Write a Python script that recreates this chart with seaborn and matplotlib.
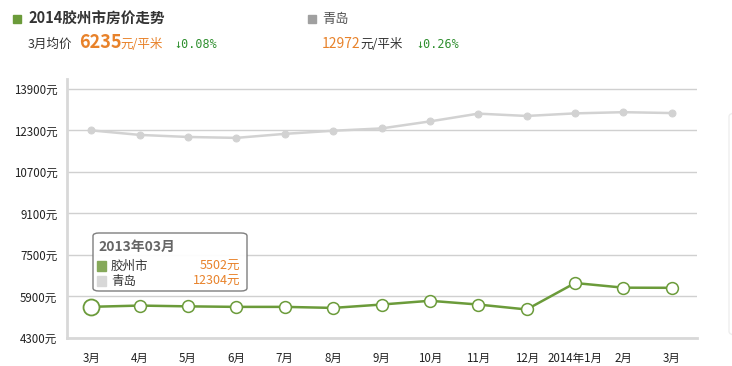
import numpy as np
import pandas as pd
import matplotlib.pyplot as plt
import seaborn as sns
from matplotlib.patches import FancyBboxPatch, Rectangle

# 数据
months = ["3月", "4月", "5月", "6月", "7月", "8月", "9月", "10月", "11月", "12月", "2014年1月", "2月", "3月"]
jiaozhou = [5502, 5550, 5520, 5500, 5500, 5460, 5590, 5735, 5590, 5400, 6420, 6240, 6235]
qingdao = [12304, 12130, 12050, 12015, 12170, 12290, 12380, 12650, 12950, 12860, 12960, 13006, 12972]
yticks = [4300, 5900, 7500, 9100, 10700, 12300, 13900]

df = pd.DataFrame({"pos": np.arange(len(months)), "胶州市": jiaozhou, "青岛": qingdao})

sns.set_style("white")
plt.rcParams["font.family"] = ["Noto Sans CJK SC", "DejaVu Sans"]

W, H = 732, 366
fig = plt.figure(figsize=(W / 100, H / 100), dpi=100)
ax = fig.add_axes([67 / W, 1 - 338 / H, (697 - 67) / W, (338 - 79) / H])

green = "#6b9b3a"
gray_line = "#d2d2d2"
orange = "#e8822a"
txt_green = "#2f8f2f"

sns.lineplot(data=df, x="pos", y="青岛", ax=ax, color=gray_line, lw=1.8,
             marker="o", markersize=5, markeredgecolor=gray_line, zorder=3)
sns.lineplot(data=df, x="pos", y="胶州市", ax=ax, color=green, lw=1.8,
             marker="o", markersize=8.5, markerfacecolor="white",
             markeredgecolor=green, markeredgewidth=1.1, zorder=4)
# 第一个点被选中, 画大一点
ax.plot(df["pos"].iloc[0], df["胶州市"].iloc[0], "o", ms=11.5, mfc="white",
        mec=green, mew=1.3, zorder=5)

ax.set_xlim(-0.5, len(months) - 0.48)
ax.set_ylim(4300, 14285)
ax.set_xticks(df["pos"])
ax.set_xticklabels(months)
ax.set_yticks(yticks)
ax.set_yticklabels([f"{v}元" for v in yticks])
ax.set_xlabel("")
ax.set_ylabel("")
ax.grid(axis="y", color="#d0d0d0", lw=1)
ax.tick_params(axis="both", labelsize=8.3, colors="#d0d0d0", labelcolor="#222222",
               length=4, width=1, direction="out")
ax.tick_params(axis="x", pad=6)
ax.tick_params(axis="y", pad=3)
for s in ["top", "right"]:
    ax.spines[s].set_visible(False)
for s in ["left", "bottom"]:
    ax.spines[s].set_color("#d8d8d8")
    ax.spines[s].set_linewidth(2)


def px(x, y):
    return x / W, 1 - y / H


# 顶部标题
fig.patches.append(Rectangle(px(13, 23), 8 / W, 8 / H, transform=fig.transFigure, color="#6b9b3a"))
fig.text(*px(28, 19), "2014胶州市房价走势", fontsize=10.5, fontweight="bold", color="#333333", va="center")
fig.text(*px(28, 44), "3月均价", fontsize=9, color="#333333", va="center")
fig.text(*px(79, 43), "6235", fontsize=13, fontweight="bold", color=orange, va="center")
fig.text(*px(120, 44), "元/平米", fontsize=9, color=orange, va="center")
fig.text(*px(174, 44), "↓0.08%", fontsize=8.5, color=txt_green, va="center", family="DejaVu Sans Mono")

fig.patches.append(Rectangle(px(308, 23), 8 / W, 8 / H, transform=fig.transFigure, color="#a0a0a0"))
fig.text(*px(322, 19), "青岛", fontsize=9.5, color="#555555", va="center")
fig.text(*px(322, 44), "12972", fontsize=10, color=orange, va="center")
fig.text(*px(360, 44), "元/平米", fontsize=9, color="#333333", va="center")
fig.text(*px(416, 44), "↓0.26%", fontsize=8.5, color=txt_green, va="center", family="DejaVu Sans Mono")

# 提示框
fig.patches.append(FancyBboxPatch(px(93, 291), (247 - 93) / W, (291 - 233) / H,
                                  boxstyle="round,pad=0,rounding_size=0.008",
                                  transform=fig.transFigure, fc="white", ec="#777777",
                                  lw=1, alpha=0.95, zorder=10))
fig.text(*px(98, 247), "2013年03月", fontsize=10, fontweight="bold", color="#666666", va="center", zorder=11)
fig.patches.append(Rectangle(px(97, 271), 9 / W, 10 / H, transform=fig.transFigure, color="#86a95a", zorder=11))
fig.text(*px(111, 266), "胶州市", fontsize=9, color="#333333", va="center", zorder=11)
fig.text(*px(240, 266), "5502元", fontsize=9, color=orange, va="center", ha="right", zorder=11)
fig.patches.append(Rectangle(px(97, 286), 9 / W, 10 / H, transform=fig.transFigure, color="#d8d8d8", zorder=11))
fig.text(*px(111, 281), "青岛", fontsize=9, color="#333333", va="center", zorder=11)
fig.text(*px(240, 281), "12304元", fontsize=9, color=orange, va="center", ha="right", zorder=11)

# 右侧被截掉的框
fig.patches.append(FancyBboxPatch(px(729, 335), 40 / W, (335 - 113) / H,
                                  boxstyle="round,pad=0,rounding_size=0.01",
                                  transform=fig.transFigure, fc="white", ec="#eeeeee", lw=1))

fig.savefig("out.png", dpi=100)
